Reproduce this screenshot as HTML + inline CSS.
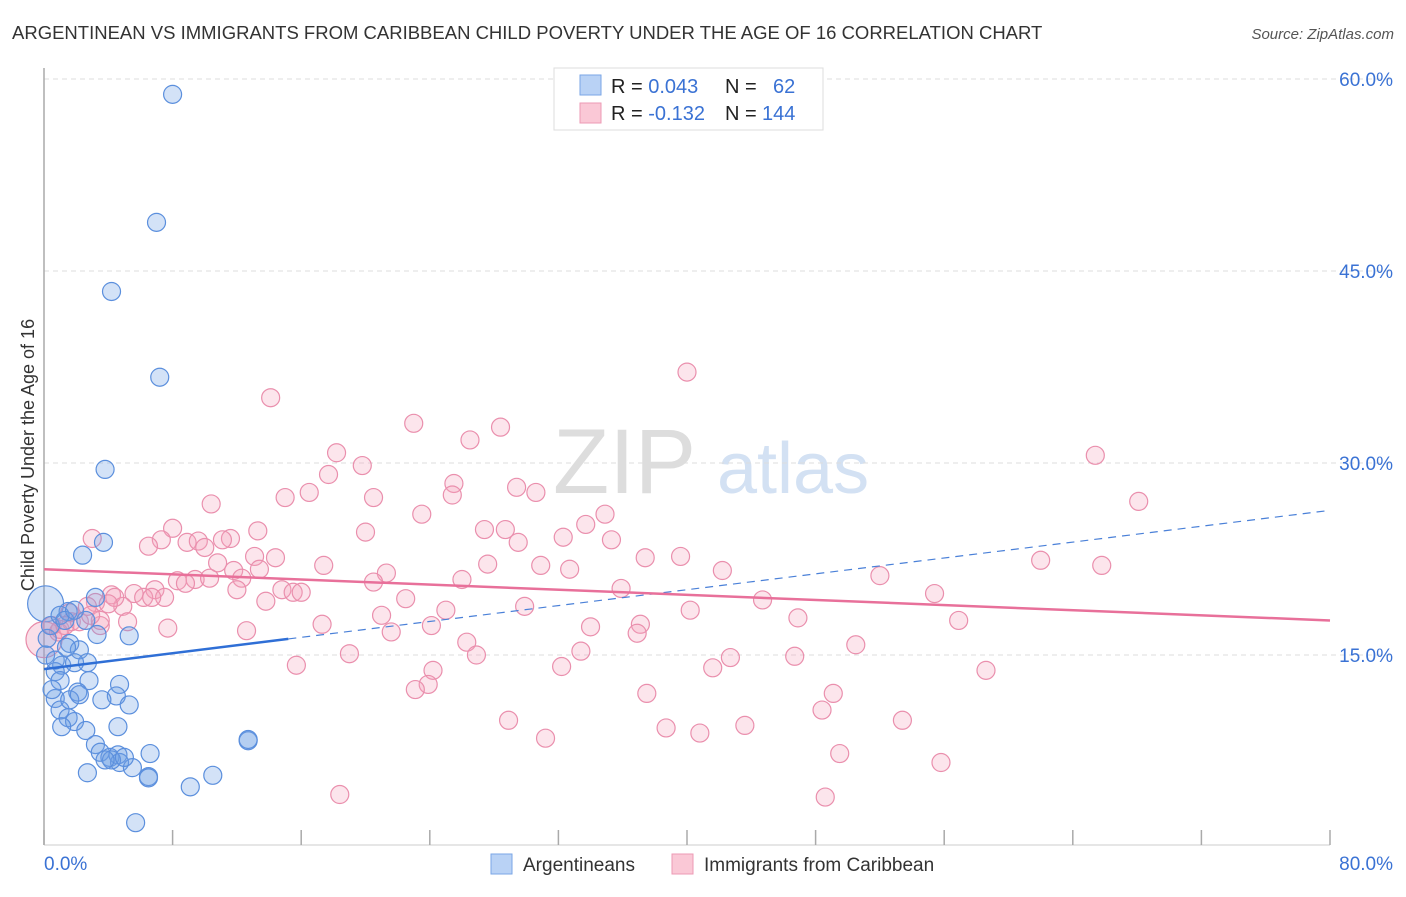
<!DOCTYPE html>
<html><head><meta charset="utf-8"><style>
body{margin:0;background:#fff;font-family:"Liberation Sans",sans-serif;}
svg text{font-family:"Liberation Sans",sans-serif;}
</style></head><body>
<svg id="c" width="1406" height="892" viewBox="0 0 1406 892" xmlns="http://www.w3.org/2000/svg">
<text x="12" y="39" font-size="18.5" fill="#333">ARGENTINEAN VS IMMIGRANTS FROM CARIBBEAN CHILD POVERTY UNDER THE AGE OF 16 CORRELATION CHART</text>
<text x="1394" y="39" font-size="15" fill="#555" font-style="italic" text-anchor="end">Source: ZipAtlas.com</text>
<g>
<text x="553" y="493" font-size="92" fill="#ddd" font-family="Liberation Serif, serif">ZIP</text>
<text x="717" y="493" font-size="72" fill="#d3e1f3">atlas</text>
</g>
<g id="grid"></g>
<g id="axes"></g>
<g id="pts"></g>
<g id="trend"></g>
<g>
<rect x="554" y="68" width="269" height="62" fill="#fff" stroke="#ddd"/>
<rect x="580" y="75" width="21" height="20" fill="#b9d2f5" stroke="#7aa6e6"/>
<rect x="580" y="103" width="21" height="20" fill="#fac8d6" stroke="#ec9ab4"/>
<text x="611" y="93" font-size="20" fill="#222">R = <tspan fill="#3a72d4">0.043</tspan><tspan x="725">N = </tspan><tspan x="773" fill="#3a72d4">62</tspan></text>
<text x="611" y="120" font-size="20" fill="#222">R = <tspan fill="#3a72d4">-0.132</tspan><tspan x="725">N = </tspan><tspan x="762" fill="#3a72d4">144</tspan></text>
</g>
<g>
<rect x="491" y="854" width="21" height="20" fill="#b9d2f5" stroke="#7aa6e6"/>
<text x="523" y="871" font-size="19" fill="#333">Argentineans</text>
<rect x="672" y="854" width="21" height="20" fill="#fac8d6" stroke="#ec9ab4"/>
<text x="704" y="871" font-size="19" fill="#333">Immigrants from Caribbean</text>
</g>
<text transform="translate(34,455) rotate(-90)" font-size="18" fill="#333" text-anchor="middle">Child Poverty Under the Age of 16</text>
</svg>
<script>
const yTicks=[15,30,45,60];
const yTickLabels=["15.0%","30.0%","45.0%","60.0%"];
const xTickCount=10;
const xTickLabels=["0.0%","80.0%"];
const blueX=[8.0,7.0,4.2,7.2,3.8,3.7,2.4,3.2,1.5,2.6,3.3,5.3,0.2,1.6,2.2,2.7,1.1,1.9,0.7,1.0,2.8,4.7,2.1,0.7,4.5,3.6,5.3,1.0,1.5,1.9,4.6,1.1,2.6,6.6,3.2,3.5,4.1,4.6,4.7,4.2,5.5,2.7,6.5,10.5,9.1,5.7,12.7,12.7,0.4,0.1,0.7,1.4,0.5,1.6,2.2,3.8,5.0,6.5,1.0,1.3,1.9];
const blueY=[58.8,48.8,43.4,36.7,29.5,23.8,22.8,19.5,18.4,17.7,16.6,16.5,16.3,15.9,15.4,14.4,14.2,14.4,13.7,13.0,13.0,12.7,12.1,11.6,11.8,11.5,11.1,10.7,10.1,9.8,9.4,9.4,9.1,7.3,8.0,7.4,7.0,7.2,6.6,6.8,6.2,5.8,5.5,5.6,4.7,1.9,8.3,8.4,17.3,15.0,14.6,15.6,12.3,11.5,11.9,6.8,7.0,5.4,18.1,17.7,18.5];
const blueBigX=[0.1];
const blueBigY=[19.0];
const pinkX=[40.0,14.1,23.0,28.4,26.5,18.2,65.4,19.8,17.7,25.5,16.5,29.4,15.0,20.5,30.6,25.4,68.1,10.4,23.5,34.9,33.7,8.0,13.3,20.0,27.4,28.7,3.0,7.3,6.5,8.9,11.6,11.1,9.6,10.0,29.5,32.3,35.3,39.6,37.4,27.6,30.9,13.1,14.4,17.4,10.8,11.8,62.0,65.8,32.7,42.2,52.0,8.3,9.4,10.3,21.3,20.5,26.0,8.8,13.4,12.3,12.0,14.8,15.5,16.0,6.9,5.6,6.2,4.2,7.5,6.7,35.9,55.4,22.5,13.8,3.2,2.7,4.9,25.0,29.9,44.7,40.2,21.0,46.9,56.9,24.1,37.1,17.3,34.0,5.2,3.5,1.7,0.9,2.2,12.6,7.7,21.6,36.9,26.3,50.5,19.0,33.4,26.9,42.7,46.7,24.2,15.7,41.6,32.2,58.6,23.9,23.1,37.5,49.1,48.4,28.9,53.4,43.6,38.7,40.8,31.2,49.5,55.8,18.4,48.6,1.0,1.6,3.5,0.5,2.9,4.4,1.3,4.0];
const pinkY=[37.1,35.1,33.1,32.8,31.8,30.8,30.6,29.8,29.1,28.4,27.7,28.1,27.3,27.3,27.7,27.5,27.0,26.8,26.0,26.0,25.2,24.9,24.7,24.6,24.8,24.8,24.1,24.0,23.5,23.8,24.1,24.0,23.9,23.4,23.8,24.2,24.0,22.7,22.6,22.1,22.0,22.7,22.6,22.0,22.2,21.6,22.4,22.0,21.7,21.6,21.2,20.8,20.9,21.0,21.4,20.7,20.9,20.6,21.7,21.0,20.1,20.1,19.9,19.9,20.1,19.8,19.5,19.7,19.5,19.5,20.2,19.8,19.4,19.2,19.1,18.8,18.8,18.5,18.8,19.3,18.5,18.1,17.9,17.7,17.3,17.4,17.4,17.2,17.6,17.3,17.6,16.8,17.6,16.9,17.1,16.8,16.7,16.0,15.8,15.1,15.3,15.0,14.8,14.9,13.8,14.2,14.0,14.1,13.8,12.7,12.3,12.0,12.0,10.7,9.9,9.9,9.5,9.3,8.9,8.5,7.3,6.6,4.1,3.9,17.0,18.3,17.7,17.3,18.1,19.5,17.3,19.0];
const pinkBigX=[0.0];
const pinkBigY=[16.2];
const blueTrend=[13.9,26.3];
const blueSolidEnd=15.2;
const pinkTrend=[21.7,17.7];

const X0=44,X1=1330,Y0=847,PXY=12.8;
const sx=v=>X0+(X1-X0)*v/80;
const sy=v=>Y0-v*PXY;
const NS="http://www.w3.org/2000/svg";
function mk(tag,parent,attrs){const e=document.createElementNS(NS,tag);for(const k in attrs)e.setAttribute(k,attrs[k]);document.getElementById(parent).appendChild(e);return e;}

yTicks.forEach((t,i)=>{
 const l=mk('line','grid',{x1:X0,x2:1394,y1:sy(t),y2:sy(t),stroke:'#ddd','stroke-dasharray':'5,4'});
 
 
 const tx=mk('text','axes',{x:1393,y:sy(t)+7,'font-size':19,fill:'#3a72d4','text-anchor':'end'});
 tx.textContent=yTickLabels[i];
 
 
});
const topGrid=mk('line','grid',{x1:X0,x2:1394,y1:79,y2:79,stroke:'#ddd','stroke-dasharray':'5,4'});


const ya=mk('line','axes',{x1:X0,x2:X0,y1:68,y2:845,stroke:'#aaa','stroke-width':1.5});


const xa=mk('line','axes',{x1:X0,x2:X1,y1:845,y2:845,stroke:'#ccc'});


for(let i=0;i<=xTickCount;i++){
 const x=sx(80*i/xTickCount);
 const t=mk('line','axes',{x1:x,x2:x,y1:830,y2:845,stroke:'#aaa','stroke-width':1.5});
 
 
}
const xl0=mk('text','axes',{x:44,y:870,'font-size':19,fill:'#3a72d4'});xl0.textContent=xTickLabels[0];


const xl1=mk('text','axes',{x:1393,y:870,'font-size':19,fill:'#3a72d4','text-anchor':'end'});xl1.textContent=xTickLabels[1];



function dots(xs,ys,r,fill,stroke,name){
 xs.forEach((v,i)=>{
  const c=mk('circle','pts',{cx:sx(v),cy:sy(ys[i]),r:r,fill:fill,stroke:stroke,'stroke-width':1.2});
  
  
 });
}
dots(pinkBigX,pinkBigY,18,'rgba(240,150,180,0.3)','#e88aa8','pink-point');
dots(blueBigX,blueBigY,18,'rgba(110,160,230,0.3)','#5b8fdd','blue-point');
dots(pinkX,pinkY,9,'rgba(245,160,188,0.28)','#ea8fad','pink-point');
dots(blueX,blueY,9,'rgba(110,160,230,0.3)','#5b8fdd','blue-point');

const bt=v=>blueTrend[0]+(blueTrend[1]-blueTrend[0])*v/80;
const l1=mk('line','trend',{x1:sx(0),y1:sy(bt(0)),x2:sx(blueSolidEnd),y2:sy(bt(blueSolidEnd)),stroke:'#2f6fd6','stroke-width':2.5});


const l2=mk('line','trend',{x1:sx(blueSolidEnd),y1:sy(bt(blueSolidEnd)),x2:sx(80),y2:sy(bt(80)),stroke:'#4a80d8','stroke-width':1.2,'stroke-dasharray':'8,6'});


const l3=mk('line','trend',{x1:sx(0),y1:sy(pinkTrend[0]),x2:sx(80),y2:sy(pinkTrend[1]),stroke:'#e8709a','stroke-width':2.5});


</script>
</body></html>
